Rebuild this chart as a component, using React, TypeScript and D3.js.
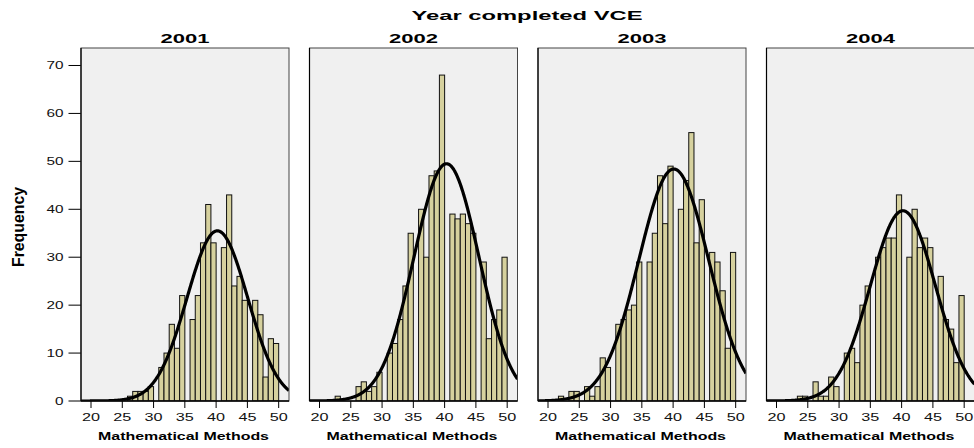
import React from 'react';
import * as d3 from 'd3';

// ---------- data ----------
const YEARS = ['2001', '2002', '2003', '2004'];
const SCORE_TICKS = [20, 25, 30, 35, 40, 45, 50];
const FREQ_TICKS = [0, 10, 20, 30, 40, 50, 60, 70];

// bins start at 20, width 5/6 of a score point (every sixth bin is empty)
const BIN_START = 20;
const BIN_WIDTH = 5 / 6;

const COUNTS_2001 = [0, 0, 0, 0, 0, 0, 0, 1, 2, 2, 2, 3, 0, 7, 10, 16, 11, 22, 0, 17, 22, 33, 41, 33, 0, 32, 43, 24, 26, 21, 0, 21, 18, 5, 13, 12];
const COUNTS_2002 = [0, 0, 0, 1, 0, 0, 0, 3, 4, 2, 3, 6, 0, 10, 12, 17, 24, 35, 0, 40, 30, 47, 48, 68, 0, 39, 38, 39, 37, 35, 0, 29, 13, 17, 19, 30];
const COUNTS_2003 = [0, 0, 1, 0, 2, 2, 0, 3, 1, 3, 9, 7, 0, 16, 17, 19, 20, 29, 0, 29, 35, 47, 37, 49, 0, 40, 46, 56, 33, 42, 0, 31, 29, 23, 11, 31];
const COUNTS_2004 = [0, 0, 0, 0, 1, 1, 0, 4, 1, 1, 5, 3, 0, 10, 11, 8, 20, 24, 0, 30, 32, 34, 34, 43, 0, 30, 40, 32, 34, 32, 0, 26, 17, 15, 8, 22];

// fitted normal curve parameters per year
const CURVE_MEAN = [40.2, 40.3, 40.1, 40.2];
const CURVE_SD = [4.85, 5.2, 5.6, 5.2];
const CURVE_PEAK = [35.5, 49.5, 48.4, 39.7];

const SERIES = [COUNTS_2001, COUNTS_2002, COUNTS_2003, COUNTS_2004];

export default function App() {
  const W = 974;
  const H = 448;
  const panelW = 208;
  const panelStep = 228.5;
  const firstLeft = 81;
  const top = 48;
  const bottom = 401;
  const xDomain: [number, number] = [18.4, 51.65];
  const y = d3.scaleLinear().domain([0, 73.65]).range([bottom, top]);
  const font = "'Liberation Sans', Arial, Helvetica, sans-serif";

  return (
    <svg
      width={W}
      height={H}
      style={{ position: 'absolute', left: 0, top: 0, display: 'block' }}
      fontFamily={font}
    >
      <rect x={0} y={0} width={W} height={H} fill="#ffffff" />
      <text
        x={527}
        y={20}
        textAnchor="middle"
        fontWeight="bold"
        fontSize={12}
        textLength={231}
        lengthAdjust="spacingAndGlyphs"
        fill="#000"
      >
        Year completed VCE
      </text>
      <text
        transform="translate(24,227) rotate(-90)"
        textAnchor="middle"
        fontWeight="bold"
        fontSize={16}
        textLength={80}
        lengthAdjust="spacingAndGlyphs"
        fill="#000"
      >
        Frequency
      </text>

      {/* y axis of first panel */}
      {FREQ_TICKS.map((t) => (
        <g key={'yt' + t}>
          <line x1={68.5} x2={firstLeft} y1={y(t)} y2={y(t)} stroke="#000" strokeWidth={1} />
          <text
            x={63.5}
            y={y(t)}
            dy="0.36em"
            textAnchor="end"
            fontSize={10}
            textLength={String(t).length * 8.5}
            lengthAdjust="spacingAndGlyphs"
            fill="#111"
          >
            {t}
          </text>
        </g>
      ))}

      {SERIES.map((counts, i) => {
        const left = firstLeft + i * panelStep;
        const x = d3.scaleLinear().domain(xDomain).range([left, left + panelW]);
        const mean = CURVE_MEAN[i];
        const sd = CURVE_SD[i];
        const peak = CURVE_PEAK[i];
        const pts = d3.range(xDomain[0], xDomain[1] + 0.001, 0.05).map((v) => [
          v,
          peak * Math.exp(-((v - mean) * (v - mean)) / (2 * sd * sd)),
        ]);
        const line = d3
          .line<number[]>()
          .x((d) => x(d[0]))
          .y((d) => y(d[1]))
          .curve(d3.curveLinear);
        const clipId = 'clip' + i;
        const cx = left + panelW / 2;
        return (
          <g key={YEARS[i]}>
            <defs>
              <clipPath id={clipId}>
                <rect x={left} y={top} width={panelW} height={bottom - top} />
              </clipPath>
            </defs>
            <rect x={left} y={top} width={panelW} height={bottom - top} fill="#f0f0f0" />
            <g clipPath={`url(#${clipId})`}>
              {counts.map((c, k) => {
                if (c <= 0) return null;
                const x0 = x(BIN_START + k * BIN_WIDTH);
                const x1 = x(BIN_START + (k + 1) * BIN_WIDTH);
                return (
                  <rect
                    key={k}
                    x={x0}
                    y={y(c)}
                    width={x1 - x0}
                    height={y(0) - y(c)}
                    fill="#d6d19e"
                    stroke="#111"
                    strokeWidth={1}
                  />
                );
              })}
              <path d={line(pts) || ''} fill="none" stroke="#000" strokeWidth={3.2} strokeLinejoin="round" />
            </g>
            <rect x={left} y={top} width={panelW} height={bottom - top} fill="none" stroke="#444" strokeWidth={1} />
            <line x1={left} x2={left} y1={top} y2={bottom} stroke="#000" strokeWidth={1.2} />
            <line x1={left} x2={left + panelW} y1={bottom} y2={bottom} stroke="#000" strokeWidth={1.5} />
            {SCORE_TICKS.map((t) => (
              <g key={'xt' + t}>
                <line x1={x(t)} x2={x(t)} y1={bottom} y2={bottom + 7} stroke="#000" strokeWidth={1} />
                <text
                  x={x(t)}
                  y={420.5}
                  textAnchor="middle"
                  fontSize={10}
                  textLength={18}
                  lengthAdjust="spacingAndGlyphs"
                  fill="#111"
                >
                  {t}
                </text>
              </g>
            ))}
            <text
              x={cx}
              y={42.5}
              textAnchor="middle"
              fontWeight="bold"
              fontSize={13}
              textLength={49}
              lengthAdjust="spacingAndGlyphs"
              fill="#000"
            >
              {YEARS[i]}
            </text>
            <text
              x={cx - 1.5}
              y={440}
              textAnchor="middle"
              fontWeight="bold"
              fontSize={10}
              textLength={171}
              lengthAdjust="spacingAndGlyphs"
              fill="#000"
            >
              Mathematical Methods
            </text>
          </g>
        );
      })}
    </svg>
  );
}
